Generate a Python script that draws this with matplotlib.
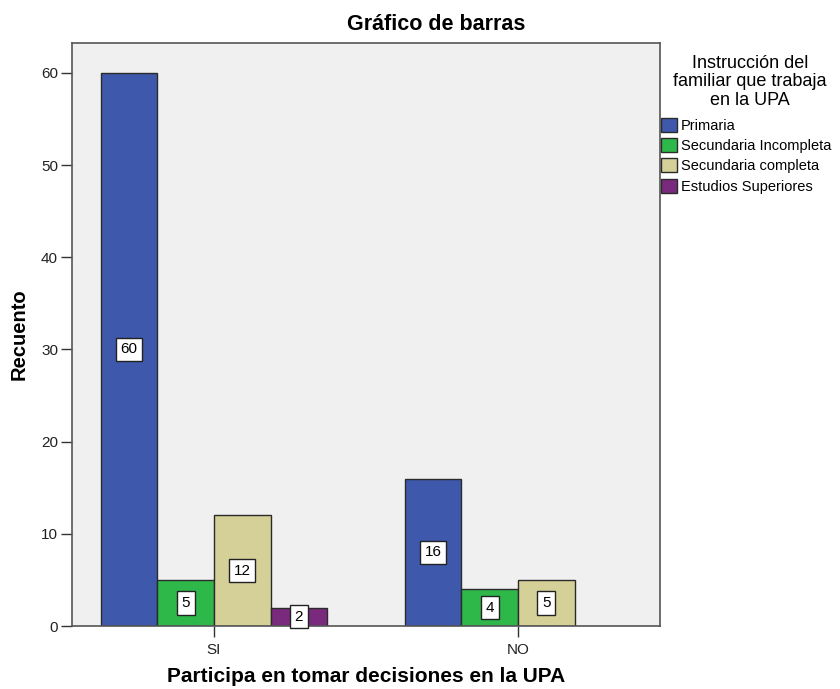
import numpy as np
import matplotlib
matplotlib.use("Agg")
import matplotlib.pyplot as plt
from matplotlib.patches import Patch

plt.rcParams["font.family"] = ["Liberation Sans", "DejaVu Sans"]

# ── Data ──────────────────────────────────────────────
categories = ["SI", "NO"]
series = ["Primaria", "Secundaria Incompleta", "Secundaria completa",
          "Estudios Superiores"]
primaria = [60, 16]
sec_incompleta = [5, 4]
sec_completa = [12, 5]
superiores = [2, 0]
values = [primaria, sec_incompleta, sec_completa, superiores]
colors = ["#3E58AC", "#2FB84A", "#D5CF98", "#7A2A7C"]

fig = plt.figure(figsize=(8.4, 6.89), dpi=100)
ax = fig.add_axes([72 / 840, 63 / 689, 588 / 840, 583 / 689])
ax.set_facecolor("#F0F0F0")

x = np.arange(len(categories))
w = 0.186
offsets = [-1.5, -0.5, 0.5, 1.5]
for vals, off, col in zip(values, offsets, colors):
    for xi, v in zip(x, vals):
        if v <= 0:
            continue
        ax.bar(xi + off * w, v, width=w, color=col,
               edgecolor="#2b2b2b", linewidth=1.0, zorder=2)
        ax.text(xi + off * w, v / 2, str(v), ha="center", va="center",
                fontsize=11, color="black", zorder=3,
                bbox=dict(boxstyle="square,pad=0.3", fc="white",
                          ec="#222222", lw=1.0))

ax.set_xlim(-0.467, 1.467)
ax.set_ylim(0, 63.25)
ax.set_xticks(x)
ax.set_xticklabels(categories, fontsize=11, color="#222222")
ax.set_yticks([0, 10, 20, 30, 40, 50, 60])
ax.tick_params(axis="y", labelsize=11, labelcolor="#222222",
               length=8, width=1, color="#333333", pad=2)
ax.tick_params(axis="x", length=8, width=1, color="#333333", pad=4)
for s in ax.spines.values():
    s.set_color("#555555")
    s.set_linewidth(1.2)

ax.set_ylabel("Recuento", fontsize=14.5, fontweight="bold", labelpad=9)
fig.text(366 / 840, 1 - 677 / 689, "Participa en tomar decisiones en la UPA",
         ha="center", va="center", fontsize=15, fontweight="bold")
fig.text(436 / 840, 1 - 25 / 689, "Gráfico de barras", ha="center",
         va="center", fontsize=15.5, fontweight="bold")

# legend
fig.text(750 / 840, 1 - 82 / 689,
         "Instrucción del\nfamiliar que trabaja\nen la UPA",
         ha="center", va="center", fontsize=13, linespacing=1.08)
handles = [Patch(facecolor=c, edgecolor="#2b2b2b", linewidth=1.0)
           for c in colors]
fig.legend(handles, series, loc="upper left",
           bbox_to_anchor=(661 / 840, 1 - 118 / 689),
           frameon=False, fontsize=10.5, handlelength=1.1,
           handleheight=1.1, handletextpad=0.25, labelspacing=0.36,
           borderpad=0, borderaxespad=0)

fig.savefig("out.png", dpi=100)
